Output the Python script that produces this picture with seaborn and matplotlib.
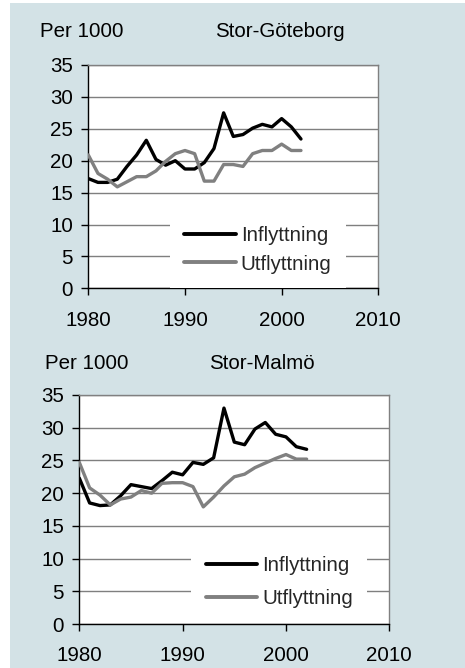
import numpy as np
import pandas as pd
import matplotlib
matplotlib.use('Agg')
import matplotlib.pyplot as plt
import seaborn as sns

# Data (per 1000 inhabitants)
years = list(range(1980, 2003))

gbg_in = [17.2, 16.6, 16.6, 17.1, 19.1, 20.9, 23.2, 20.2, 19.3, 20.0, 18.7, 18.7,
          19.7, 21.9, 27.5, 23.8, 24.1, 25.1, 25.7, 25.3, 26.6, 25.3, 23.4]
gbg_ut = [20.9, 18.0, 17.1, 15.9, 16.7, 17.5, 17.5, 18.4, 19.9, 21.1, 21.6, 21.1,
          16.8, 16.8, 19.4, 19.4, 19.1, 21.1, 21.6, 21.6, 22.6, 21.6, 21.6]

mlm_in = [22.3, 18.5, 18.1, 18.2, 19.6, 21.3, 21.0, 20.7, 21.9, 23.2, 22.8, 24.7,
          24.4, 25.4, 33.0, 27.8, 27.4, 29.8, 30.8, 29.0, 28.6, 27.1, 26.7]
mlm_ut = [24.7, 20.8, 19.7, 18.2, 19.1, 19.4, 20.4, 20.0, 21.5, 21.6, 21.6, 21.0,
          17.9, 19.4, 21.1, 22.5, 22.9, 23.9, 24.6, 25.3, 25.9, 25.2, 25.2]

series_names = ['Inflyttning', 'Utflyttning']
titles = ['Stor-Göteborg', 'Stor-Malmö']
xticks = [1980, 1990, 2000, 2010]
yticks = [0, 5, 10, 15, 20, 25, 30, 35]

sns.set_theme(style='white')
plt.rcParams['font.family'] = ['Liberation Sans', 'DejaVu Sans']

W, H = 465, 668
fig = plt.figure(figsize=(W / 100, H / 100), dpi=100, facecolor='white')
bg = '#d3e2e6'
fig.patches.append(plt.Rectangle((10 / W, 0), 1, (H - 3) / H, transform=fig.transFigure,
                                 facecolor=bg, edgecolor='none', zorder=-10))


def px_axes(left, top, right, bottom):
    return fig.add_axes([left / W, (H - bottom) / H, (right - left) / W, (bottom - top) / H])


panels = [
    dict(box=(88.3, 65, 378.3, 288.3), data=(gbg_in, gbg_ut), title=titles[0],
         per_x=40, title_x=215, base_y=37, leg=(0.585, 0.172), lsp=0.45),
    dict(box=(79.3, 395, 389.3, 624), data=(mlm_in, mlm_ut), title=titles[1],
         per_x=45, title_x=209, base_y=369, leg=(0.645, 0.182), lsp=0.68),
]

palette = {'Inflyttning': 'black', 'Utflyttning': '#808080'}
fs = 14.8

for p in panels:
    ax = px_axes(*p['box'])
    df = pd.DataFrame({
        'year': years * 2,
        'value': list(p['data'][0]) + list(p['data'][1]),
        'serie': [series_names[0]] * len(years) + [series_names[1]] * len(years),
    })
    sns.lineplot(data=df, x='year', y='value', hue='serie', palette=palette,
                 linewidth=2.4, ax=ax, zorder=3)
    ax.set_facecolor('white')
    ax.set_xlim(1980, 2010)
    ax.set_ylim(0, 35)
    ax.set_xticks(xticks)
    ax.set_yticks(yticks)
    ax.set_xlabel('')
    ax.set_ylabel('')
    ax.yaxis.grid(True, color='#7f7f7f', linewidth=1.0)
    ax.xaxis.grid(False)
    for side in ['top', 'right']:
        ax.spines[side].set_color('#808080')
        ax.spines[side].set_linewidth(1.0)
    for side in ['left', 'bottom']:
        ax.spines[side].set_color('black')
        ax.spines[side].set_linewidth(1.0)
    ax.tick_params(axis='both', direction='out', length=5, width=1, color='black',
                   labelsize=fs, labelcolor='black')
    ax.tick_params(axis='x', pad=11)
    ax.tick_params(axis='y', pad=6)
    ax.tick_params(left=True, bottom=True)

    leg = ax.legend(loc='center', bbox_to_anchor=p['leg'], frameon=True, fontsize=fs,
                    handlelength=2.5, handletextpad=0.25, labelspacing=p['lsp'],
                    borderpad=0.7, borderaxespad=0, fancybox=False)
    leg.get_frame().set_facecolor('white')
    leg.get_frame().set_edgecolor('none')
    leg.get_frame().set_alpha(1)
    leg.set_zorder(5)
    for line in leg.get_lines():
        line.set_linewidth(2.8)

    fig.text(p['per_x'] / W, (H - p['base_y']) / H, 'Per 1000', fontsize=fs,
             va='baseline', ha='left', color='black')
    fig.text(p['title_x'] / W, (H - p['base_y']) / H, p['title'], fontsize=fs,
             va='baseline', ha='left', color='black')

fig.savefig('out.png', dpi=100, facecolor='white')
